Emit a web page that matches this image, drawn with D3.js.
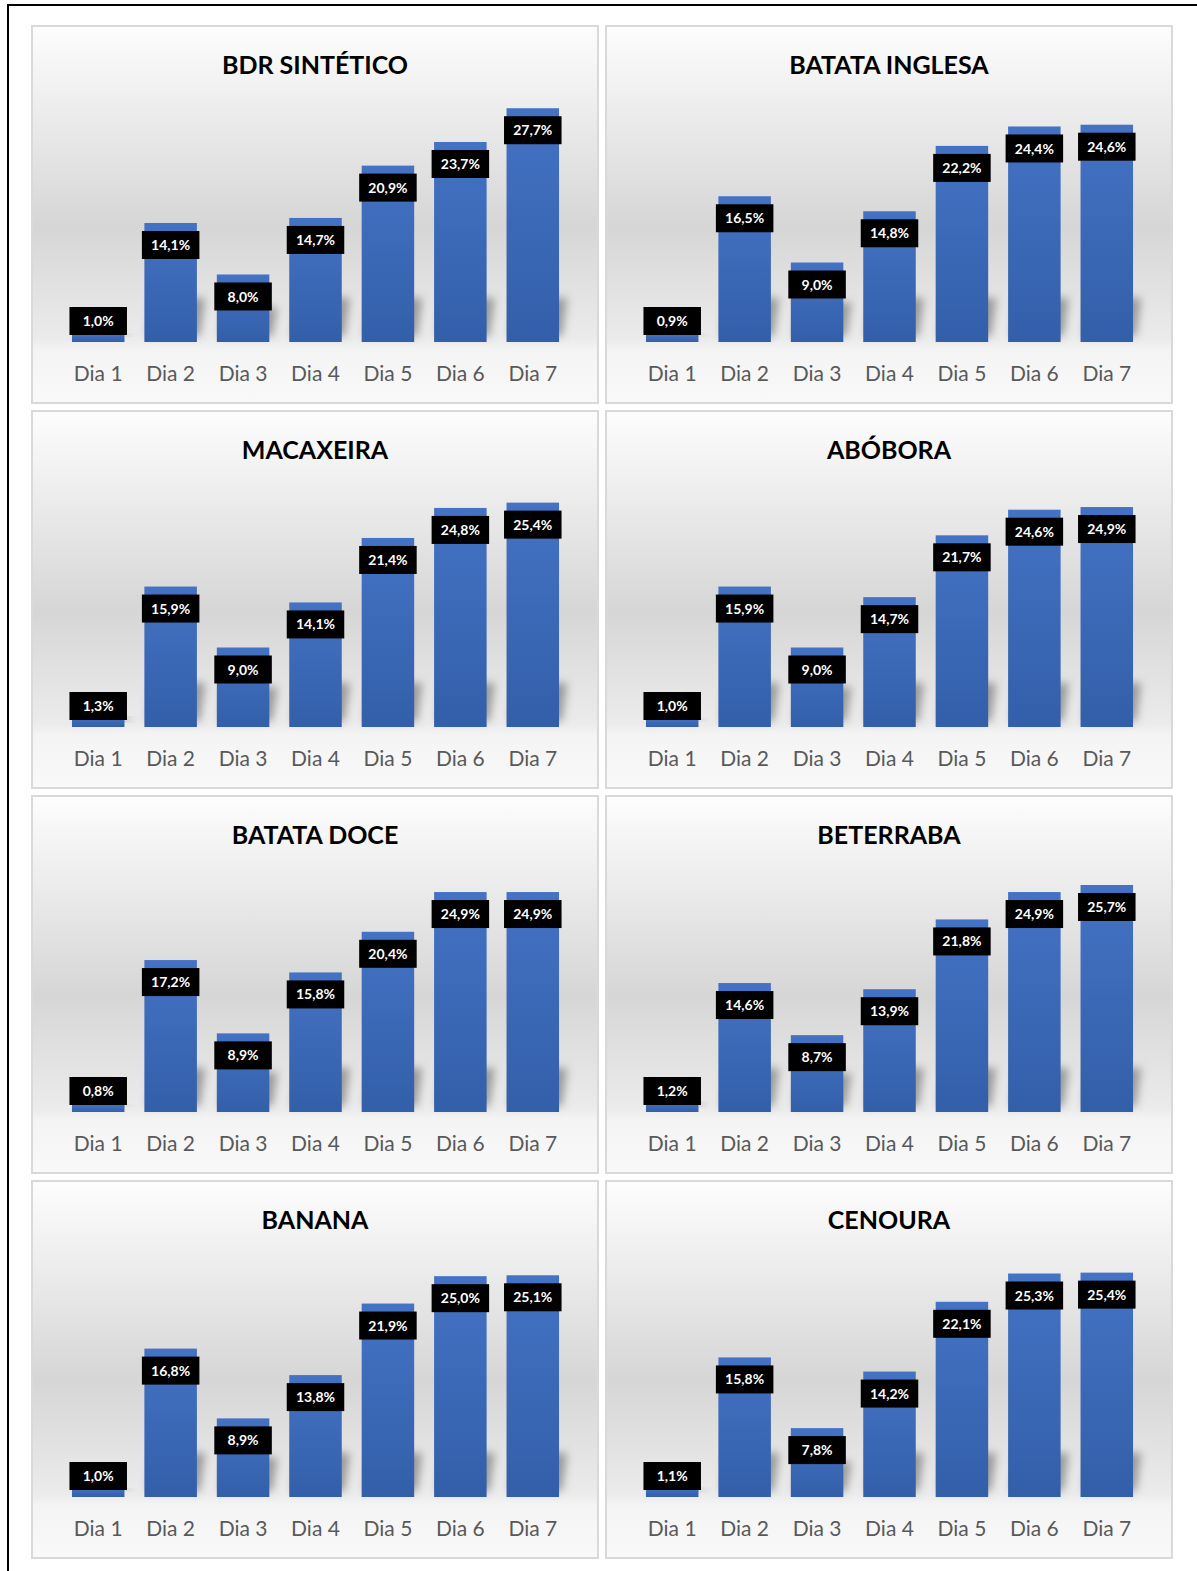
<html>
  <head>
    <title>Dias</title>
    <script type="text/javascript" src="https://cdn.jsdelivr.net/npm/d3@7"></script>
    <style type="text/css">

body {
  margin: 0;
  background: #fff;
}

text {
  font-family: Lato, "Open Sans", sans-serif;
}

.panel-frame {
  stroke: #d9d9d9;
  stroke-width: 2px;
}

.title {
  font-size: 25px;
  font-weight: bold;
  fill: #000;
}

.cat {
  font-size: 21px;
  fill: #595959;
}

.lbl {
  font-size: 14px;
  font-weight: bold;
  fill: #fff;
}

    </style>
  </head>
  <body>
    <script type="text/javascript">

// data (percent)
var categories = ["Dia 1", "Dia 2", "Dia 3", "Dia 4", "Dia 5", "Dia 6", "Dia 7"];
var titles = ["BDR SINTÉTICO", "BATATA INGLESA", "MACAXEIRA", "ABÓBORA",
              "BATATA DOCE", "BETERRABA", "BANANA", "CENOURA"];
var bdrSintetico  = [1.0, 14.1, 8.0, 14.7, 20.9, 23.7, 27.7];
var batataInglesa = [0.9, 16.5, 9.0, 14.8, 22.2, 24.4, 24.6];
var macaxeira     = [1.3, 15.9, 9.0, 14.1, 21.4, 24.8, 25.4];
var abobora       = [1.0, 15.9, 9.0, 14.7, 21.7, 24.6, 24.9];
var batataDoce    = [0.8, 17.2, 8.9, 15.8, 20.4, 24.9, 24.9];
var beterraba     = [1.2, 14.6, 8.7, 13.9, 21.8, 24.9, 25.7];
var banana        = [1.0, 16.8, 8.9, 13.8, 21.9, 25.0, 25.1];
var cenoura       = [1.1, 15.8, 7.8, 14.2, 22.1, 25.3, 25.4];
var axisMax       = [31.4, 30, 30, 30, 30, 30, 30, 30];

var series = [bdrSintetico, batataInglesa, macaxeira, abobora,
              batataDoce, beterraba, banana, cenoura];

var W = 1197, H = 1571,
    pw = 566, ph = 377,
    colX = [32, 606],
    rowY = [26, 411, 796, 1181],
    base = 316, plotTop = 51;

var fmt = function(v) { return v.toFixed(1).replace(".", ",") + "%"; };

var svg = d3.select("body")
  .append("svg")
    .attr("width", W)
    .attr("height", H);

var defs = svg.append("defs");

var bg = defs.append("linearGradient")
    .attr("id", "bg")
    .attr("x1", 0).attr("y1", 0).attr("x2", 0).attr("y2", 1);
[[0, "#fdfdfd"], [0.53, "#d6d6d6"], [0.83, "#ebebeb"], [0.86, "#f4f4f4"], [1, "#f9f9f9"]]
  .forEach(function(s) { bg.append("stop").attr("offset", s[0]).attr("stop-color", s[1]); });

var barGrad = defs.append("linearGradient")
    .attr("id", "bar")
    .attr("x1", 0).attr("y1", 0).attr("x2", 0).attr("y2", 1);
barGrad.append("stop").attr("offset", 0).attr("stop-color", "#4472c4");
barGrad.append("stop").attr("offset", 1).attr("stop-color", "#335fa9");

defs.append("filter")
    .attr("id", "blur")
    .attr("x", "-50%").attr("y", "-50%").attr("width", "200%").attr("height", "200%")
  .append("feGaussianBlur")
    .attr("stdDeviation", 4);

// outer frame: top and left edges only
svg.append("line")
    .attr("x1", 7).attr("x2", W).attr("y1", 5).attr("y2", 5)
    .attr("stroke", "#000").attr("stroke-width", 2);
svg.append("line")
    .attr("x1", 8).attr("x2", 8).attr("y1", 4).attr("y2", H)
    .attr("stroke", "#000").attr("stroke-width", 2);

var x = d3.scaleBand()
    .domain(categories)
    .range([30, 537])
    .paddingInner(0.275)
    .paddingOuter(0.1375);

var bw = x.bandwidth();

series.forEach(function(values, i) {
  var px = colX[i % 2], py = rowY[Math.floor(i / 2)];
  var y = d3.scaleLinear().domain([0, axisMax[i]]).range([base, plotTop]);

  var g = svg.append("g")
      .attr("transform", "translate(" + px + "," + py + ")");

  g.append("rect")
      .attr("class", "panel-frame")
      .attr("width", pw)
      .attr("height", ph)
      .attr("fill", "url(#bg)");

  g.append("text")
      .attr("class", "title")
      .attr("x", pw / 2)
      .attr("y", 48)
      .attr("text-anchor", "middle")
      .text(titles[i]);

  var rows = values.map(function(v, j) { return {cat: categories[j], v: v}; });

  // soft perspective shadow
  g.selectAll("polygon.shadow")
      .data(rows)
    .enter().append("polygon")
      .attr("class", "shadow")
      .attr("fill", "#808080")
      .attr("opacity", 0.75)
      .attr("filter", "url(#blur)")
      .attr("points", function(d) {
        var x0 = x(d.cat), x1 = x0 + bw, h = base - y(d.v);
        var sh = Math.min(h * 0.45, 40), dx = 8;
        return [[x0 + 3, base - 6], [x1 + 3, base - 6],
                [x1 + dx, base - 4 - sh], [x0 + dx, base - 4 - sh]].join(" ");
      });

  g.selectAll("rect.bar")
      .data(rows)
    .enter().append("rect")
      .attr("class", "bar")
      .attr("x", function(d) { return x(d.cat); })
      .attr("y", function(d) { return y(d.v); })
      .attr("width", bw)
      .attr("height", function(d) { return base - y(d.v); })
      .attr("fill", "url(#bar)");

  var boxH = 28, boxW = bw + 5;
  var boxY = function(d) {
    return Math.min(y(d.v) + 8, base - 7 - boxH);
  };

  var lab = g.selectAll("g.lab")
      .data(rows)
    .enter().append("g")
      .attr("class", "lab");

  lab.append("rect")
      .attr("x", function(d) { return x(d.cat) + bw / 2 - boxW / 2; })
      .attr("y", boxY)
      .attr("width", boxW)
      .attr("height", boxH)
      .attr("fill", "#000");

  lab.append("text")
      .attr("class", "lbl")
      .attr("x", function(d) { return x(d.cat) + bw / 2; })
      .attr("y", function(d) { return boxY(d) + boxH / 2; })
      .attr("dy", ".36em")
      .attr("text-anchor", "middle")
      .text(function(d) { return fmt(d.v); });

  g.selectAll("text.cat")
      .data(categories)
    .enter().append("text")
      .attr("class", "cat")
      .attr("x", function(d) { return x(d) + bw / 2; })
      .attr("y", 355)
      .attr("text-anchor", "middle")
      .text(function(d) { return d; });
});

    </script>
  </body>
</html>
